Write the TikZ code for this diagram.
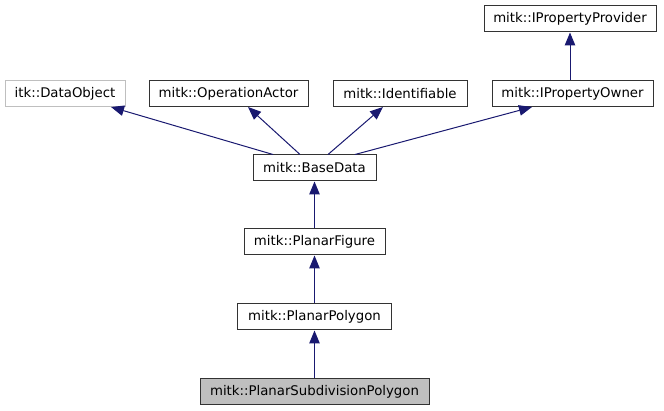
\documentclass[tikz,border=0pt]{standalone}
\usepackage{fontspec}
\setmainfont{DejaVu Sans}
\usepackage{xcolor}
\usepackage{tikz}
\usetikzlibrary{positioning,shapes,arrows,arrows.meta}

\definecolor{edgeblue}{HTML}{191970}
\definecolor{curfill}{HTML}{BFBFBF}

\begin{document}
\begin{tikzpicture}[
    x=1pt, y=-1pt,
    base/.style={rectangle, draw=black!80, line width=1pt, minimum height=26pt,
                 inner sep=0pt, align=center, font=\fontsize{13.3}{16}\selectfont},
    Bclass/.style={base, fill=white},
    Bext/.style=  {base, fill=white, draw=curfill},
    Bcur/.style=  {base, fill=curfill},
    arr/.style={-{Triangle[length=13pt,width=10.5pt]}, draw=edgeblue, line width=1pt},
]
\useasboundingbox (0,0) rectangle (664,411);

\node[Bclass, minimum width=172] (provider) at (570,19)   {mitk::IPropertyProvider};

\node[Bext,   minimum width=120] (dataobj)  at (65,93.5)  {itk::DataObject};
\node[Bclass, minimum width=159] (opactor)  at (228.5,93.5) {mitk::OperationActor};
\node[Bclass, minimum width=134] (ident)    at (400,93.5) {mitk::Identifiable};
\node[Bclass, minimum width=161] (owner)    at (572.5,93.5) {mitk::IPropertyOwner};

\node[Bclass, minimum width=123] (basedata) at (314.5,168) {mitk::BaseData};
\node[Bclass, minimum width=141] (figure)   at (314.5,242) {mitk::PlanarFigure};
\node[Bclass, minimum width=154] (polygon)  at (314.5,317) {mitk::PlanarPolygon};
\node[Bcur,   minimum width=229] (subpoly)  at (314.5,391.5) {mitk::PlanarSubdivisionPolygon};

\draw[arr] (owner.north -| provider.south) -- (provider.south);
\draw[arr] ([xshift=-41.5]basedata.north) -- ([xshift=46]dataobj.south);
\draw[arr] ([xshift=-14.5]basedata.north) -- ([xshift=19.5]opactor.south);
\draw[arr] ([xshift=13.5]basedata.north)  -- ([xshift=-17]ident.south);
\draw[arr] ([xshift=40.5]basedata.north)  -- ([xshift=-40.5]owner.south);
\draw[arr] (figure)  -- (basedata);
\draw[arr] (polygon) -- (figure);
\draw[arr] (subpoly) -- (polygon);
\end{tikzpicture}
\end{document}
